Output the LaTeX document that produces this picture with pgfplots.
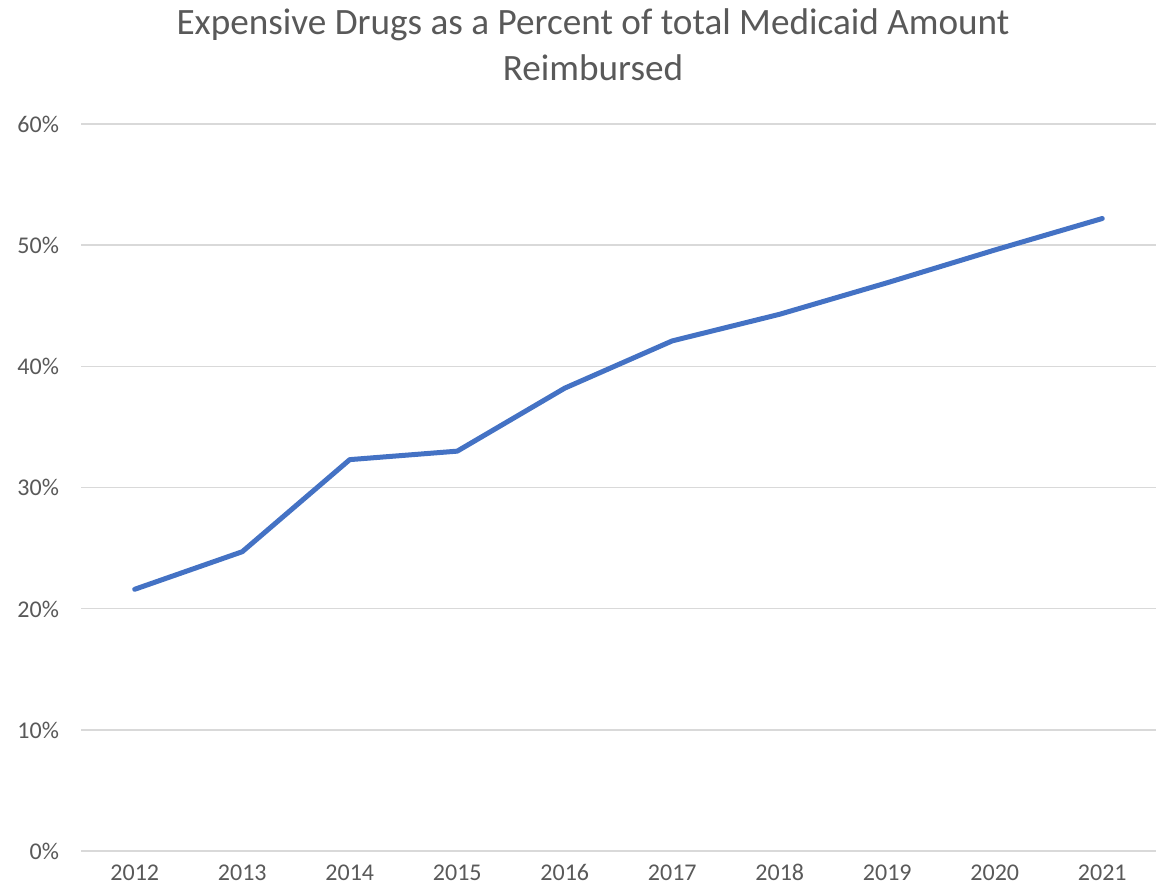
\documentclass[border=0pt]{standalone}
\usepackage{fontspec}
\setmainfont{Carlito}
\usepackage{pgfplots}
\pgfplotsset{compat=1.18}
\definecolor{txt}{HTML}{595959}
\definecolor{grd}{HTML}{D9D9D9}
\definecolor{ln}{HTML}{4472C4}
\begin{document}
\begin{tikzpicture}
\useasboundingbox (-40.5pt,-20.5pt) rectangle (537.5pt,425.5pt);
\begin{axis}[
  scale only axis,
  width=537.5pt, height=363.5pt,
  xmin=-0.5, xmax=9.5, ymin=0, ymax=0.6,
  axis line style={draw=none},
  axis x line*=bottom,
  xtick={0,...,9},
  xticklabels={2012,2013,2014,2015,2016,2017,2018,2019,2020,2021},
  ytick={0,0.1,0.2,0.3,0.4,0.5,0.6},
  yticklabels={0\%,10\%,20\%,30\%,40\%,50\%,60\%},
  ymajorgrids,
  grid style={grd, line width=0.75pt},
  major tick length=0pt,
  tick style={draw=none},
  ticklabel style={font=\fontsize{12}{14}\selectfont, text=txt},
  yticklabel style={xshift=-7.5pt, text height=8.5pt, text depth=0pt},
  xticklabel style={yshift=-5pt, text height=8.5pt, text depth=0pt, inner sep=1pt},
  clip=false,
]
\draw[grd, line width=0.75pt] (axis cs:-0.5,0) -- (axis cs:9.5,0);
\addplot[ln, line width=2.5pt, line join=round, line cap=round] coordinates {
(0,0.216) (1,0.247) (2,0.323) (3,0.330) (4,0.382) (5,0.421) (6,0.443) (7,0.469) (8,0.496) (9,0.522)
};
\end{axis}
\node[text=txt, font=\fontsize{18.6}{23}\selectfont, align=center] at (256pt,403pt) {Expensive Drugs as a Percent of total Medicaid Amount\\Reimbursed};
\end{tikzpicture}
\end{document}
